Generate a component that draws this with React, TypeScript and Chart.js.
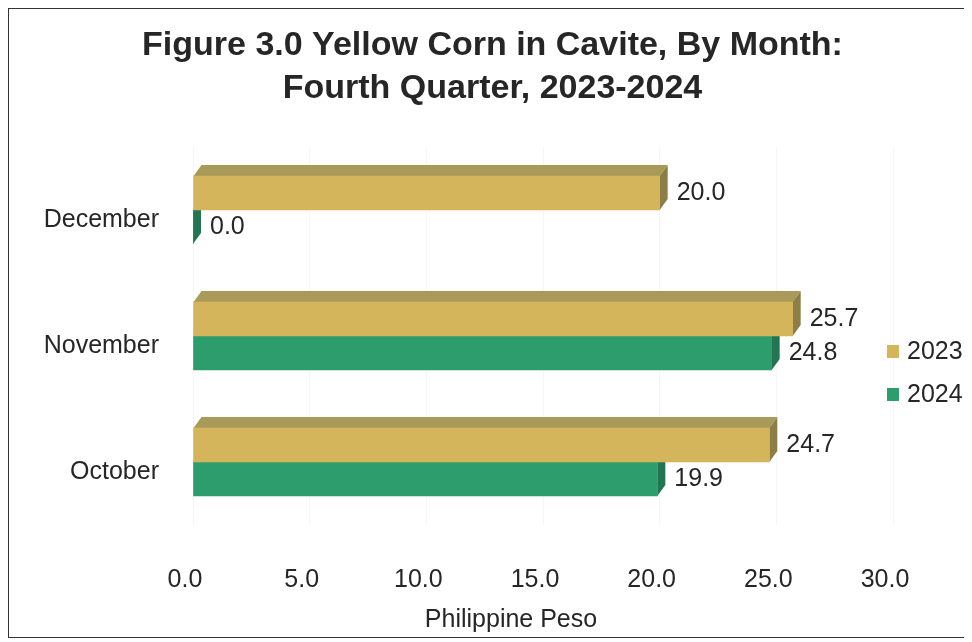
import React, { useEffect, useRef } from 'react';
import { Chart, registerables } from 'chart.js';

Chart.register(...registerables);

const months = ['December', 'November', 'October'];
const seriesNames = ['2023', '2024'];
const values2023 = [20.0, 25.7, 24.7];
const values2024 = [0.0, 24.8, 19.9];
const xTicks = [0, 5, 10, 15, 20, 25, 30];
const titleLines = ['Figure 3.0 Yellow Corn in Cavite, By Month:', 'Fourth Quarter, 2023-2024'];
const axisTitle = 'Philippine Peso';

const FONT = "'Liberation Sans', Arial, Helvetica, sans-serif";
const TEXT = '#262626';
const palette = [
  { front: '#D5B55B', top: '#A99A59', side: '#8C7E45' },
  { front: '#2E9D6D', top: '#3F8A66', side: '#227552' },
];
const DX = 8;
const DY = 11;

const depthPlugin = {
  id: 'depth3d',
  beforeDatasetsDraw(chart: any) {
    const ctx = chart.ctx;
    ctx.save();
    for (let di = chart.data.datasets.length - 1; di >= 0; di--) {
      const meta = chart.getDatasetMeta(di);
      const col = palette[di];
      meta.data.forEach((bar: any) => {
        const p = bar.getProps(['x', 'y', 'base', 'height'], true);
        const yt = p.y - p.height / 2;
        const yb = p.y + p.height / 2;
        const x0 = p.base;
        const xe = p.x;
        ctx.fillStyle = col.top;
        ctx.beginPath();
        ctx.moveTo(x0, yt);
        ctx.lineTo(x0 + DX, yt - DY);
        ctx.lineTo(xe + DX, yt - DY);
        ctx.lineTo(xe, yt);
        ctx.closePath();
        ctx.fill();
        ctx.fillStyle = col.side;
        ctx.beginPath();
        ctx.moveTo(xe, yt);
        ctx.lineTo(xe + DX, yt - DY);
        ctx.lineTo(xe + DX, yb - DY);
        ctx.lineTo(xe, yb);
        ctx.closePath();
        ctx.fill();
      });
    }
    ctx.restore();
  },
};

const labelPlugin = {
  id: 'extras',
  afterDatasetsDraw(chart: any) {
    const ctx = chart.ctx;
    ctx.save();
    ctx.font = `25px ${FONT}`;
    ctx.fillStyle = TEXT;
    ctx.textAlign = 'left';
    ctx.textBaseline = 'middle';
    chart.data.datasets.forEach((ds: any, di: number) => {
      const meta = chart.getDatasetMeta(di);
      meta.data.forEach((bar: any, i: number) => {
        const p = bar.getProps(['x', 'y'], true);
        ctx.fillText(Number(ds.data[i]).toFixed(1), p.x + DX + 9, p.y);
      });
    });
    ctx.restore();
  },
  afterDraw(chart: any) {
    const ctx = chart.ctx;
    ctx.save();
    // title
    ctx.font = `bold 34px ${FONT}`;
    ctx.fillStyle = TEXT;
    ctx.textAlign = 'center';
    ctx.textBaseline = 'middle';
    titleLines.forEach((t, i) => ctx.fillText(t, 483.5, 37 + i * 43));
    // axis title
    ctx.font = `25px ${FONT}`;
    ctx.fillText(axisTitle, 502, 611);
    // legend
    ctx.textAlign = 'left';
    chart.data.datasets.forEach((ds: any, di: number) => {
      const cy = 343 + di * 43;
      ctx.fillStyle = palette[di].front;
      ctx.fillRect(878, cy - 7, 12, 13);
      ctx.fillStyle = TEXT;
      ctx.fillText(ds.label, 898, cy);
    });
    ctx.restore();
  },
};

export default function App() {
  const ref = useRef<HTMLCanvasElement>(null);
  useEffect(() => {
    Chart.defaults.font.family = FONT;
    const chart = new Chart(ref.current as HTMLCanvasElement, {
      type: 'bar',
      data: {
        labels: months,
        datasets: [
          { label: seriesNames[0], data: values2023, backgroundColor: palette[0].front, barThickness: 34 },
          { label: seriesNames[1], data: values2024, backgroundColor: palette[1].front, barThickness: 34 },
        ],
      },
      options: {
        indexAxis: 'y',
        responsive: false,
        animation: false,
        devicePixelRatio: 1,
        layout: { padding: { left: 0, right: 76, top: 138, bottom: 0 } },
        plugins: {
          legend: { display: false },
          tooltip: { enabled: false },
          title: { display: false },
        },
        scales: {
          x: {
            min: 0,
            max: 30,
            afterBuildTicks: (s: any) => {
              s.ticks = xTicks.map((v) => ({ value: v }));
            },
            ticks: {
              callback: (v: any) => Number(v).toFixed(1),
              font: { size: 25, family: FONT },
              color: TEXT,
              padding: 40,
              labelOffset: -8,
              maxRotation: 0,
            },
            grid: { color: 'rgba(0,0,0,0.035)', drawTicks: false },
            border: { display: false },
            afterFit: (s: any) => {
              s.height = 112;
            },
          },
          y: {
            ticks: { font: { size: 25, family: FONT }, color: TEXT, padding: 26, labelOffset: 10 },
            grid: { display: false },
            border: { display: false },
            afterFit: (s: any) => {
              s.width = 184;
            },
          },
        },
      } as any,
      plugins: [depthPlugin, labelPlugin],
    });
    return () => chart.destroy();
  }, []);

  return (
    <div style={{ width: 960, height: 628, border: '1px solid #333', background: '#fff' }}>
      <canvas ref={ref} width={960} height={628} style={{ display: 'block' }} />
    </div>
  );
}
